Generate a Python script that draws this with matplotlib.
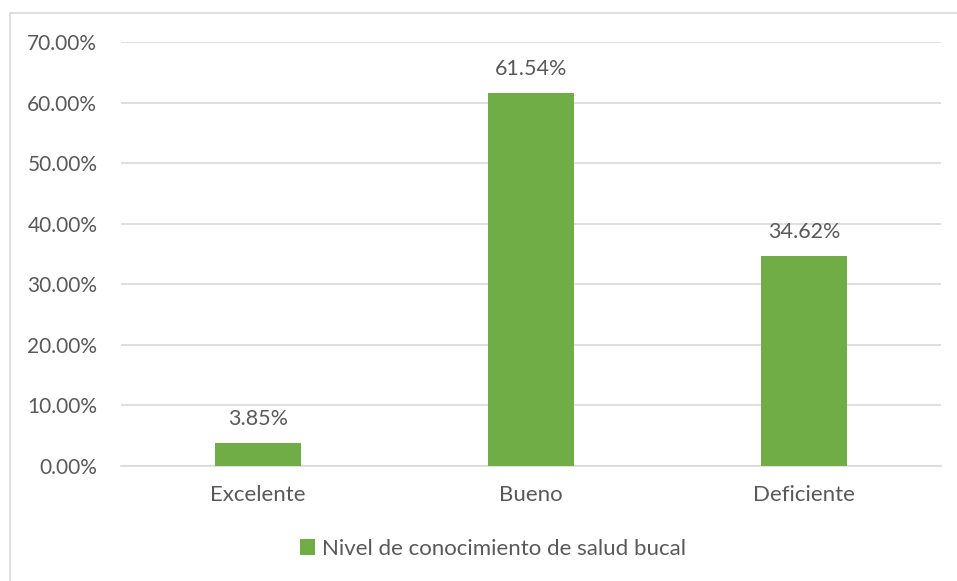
import matplotlib.pyplot as plt
from matplotlib.patches import Rectangle
from matplotlib.ticker import FuncFormatter
import numpy as np

categories = ["Excelente", "Bueno", "Deficiente"]
values = [3.85, 61.54, 34.62]
series_name = "Nivel de conocimiento de salud bucal"
yticks = [0, 10, 20, 30, 40, 50, 60, 70]

bar_color = '#70AD47'
text_color = '#595959'
grid_color = '#D9D9D9'

plt.rcParams['font.family'] = ['Lato', 'DejaVu Sans']

fig = plt.figure(figsize=(9.57, 5.81), dpi=100)
ax = fig.add_axes([0.1264, 0.198, 0.857, 0.7298])

# chart border (runs off the right and bottom edges)
fig.patches.append(Rectangle((10 / 957, -0.05), 1.1, 1 - 13 / 581 + 0.05,
                             transform=fig.transFigure, fill=False,
                             edgecolor='#D9D9D9', linewidth=1.2))

x = np.arange(len(categories))
bars = ax.bar(x, values, width=0.315, color=bar_color, zorder=3, label=series_name)

for xi, v in zip(x, values):
    ax.text(xi, v + 2.3, f"{v:.2f}%", ha='center', va='bottom',
            fontsize=15.5, color=text_color)

ax.set_xlim(-0.5, 2.5)
ax.set_ylim(0, 70)
ax.set_yticks(yticks)
ax.yaxis.set_major_formatter(FuncFormatter(lambda v, p: f"{v:.2f}%"))
ax.set_xticks(x)
ax.set_xticklabels(categories)
ax.tick_params(axis='both', length=0, labelcolor=text_color)
ax.tick_params(axis='y', pad=17, labelsize=15)
ax.tick_params(axis='x', pad=14, labelsize=16)
ax.grid(axis='y', color=grid_color, linewidth=1.2, zorder=0)
for s in ['top', 'right', 'left']:
    ax.spines[s].set_visible(False)
ax.spines['bottom'].set_color(grid_color)
ax.spines['bottom'].set_linewidth(1.2)

fig.legend(handles=[bars], labels=[series_name], loc='center',
           bbox_to_anchor=(0.515, 1 - 549 / 581), frameon=False,
           fontsize=16, labelcolor=text_color, handlelength=0.7,
           handleheight=0.7, handletextpad=0.3)

plt.savefig("out.png", dpi=100)
plt.close()
